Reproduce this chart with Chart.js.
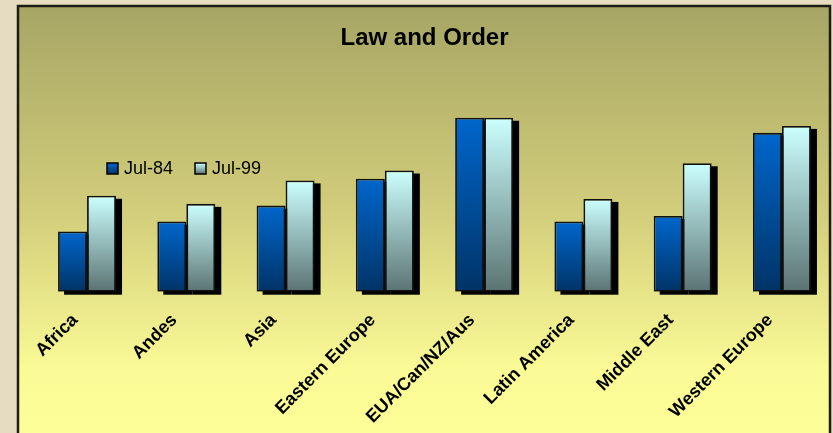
<!DOCTYPE html>
<html><head><meta charset="utf-8">
<script src="https://cdn.jsdelivr.net/npm/chart.js@4/dist/chart.umd.min.js"></script>
<style>html,body{margin:0;padding:0;background:#e4dabd;overflow:hidden}</style>
</head><body>
<canvas id="c" width="833" height="433"></canvas>
<script>
// ---- data ----
const categories = ['Africa','Andes','Asia','Eastern Europe','EUA/Can/NZ/Aus','Latin America','Middle East','Western Europe'];
const seriesNames = ['Jul-84','Jul-99'];
const jul84 = [2.08, 2.42, 2.97, 3.90, 6.00, 2.42, 2.61, 5.48];
const jul99 = [3.31, 3.03, 3.84, 4.18, 6.00, 3.20, 4.43, 5.72];
const titleText = 'Law and Order';

// ---- styles ----
const FONT = "'Liberation Sans', Arial, sans-serif";
const grad84 = ['#0066cc', '#003366'];
const grad99 = ['#ccffff', '#5a7372'];

function barBg(cols) {
  return (context) => {
    const chart = context.chart;
    const {ctx, chartArea, scales} = chart;
    if (!chartArea || context.type !== 'data' || !scales.y) return cols[0];
    const v = context.parsed ? context.parsed.y : context.raw;
    const yTop = scales.y.getPixelForValue(v);
    const yBot = scales.y.getPixelForValue(0);
    const g = ctx.createLinearGradient(0, yTop, 0, yBot);
    g.addColorStop(0, cols[0]);
    g.addColorStop(1, cols[1]);
    return g;
  };
}

const framePlugin = {
  id: 'frame',
  beforeDraw(chart) {
    const ctx = chart.ctx;
    const W = chart.width, H = chart.height;
    ctx.save();
    ctx.fillStyle = '#e6dcc1';
    ctx.fillRect(0, 0, W, H);
    const x0 = 18, y0 = 6, x1 = 830, y1 = H + 10;
    const g = ctx.createLinearGradient(0, y0, 0, H);
    g.addColorStop(0, '#a6a564');
    g.addColorStop(0.5, '#d4cf7c');
    g.addColorStop(0.85, '#fafa96');
    g.addColorStop(1, '#ffff99');
    ctx.fillStyle = g;
    ctx.fillRect(x0, y0, x1 - x0, y1 - y0);
    ctx.strokeStyle = '#1c1c12';
    ctx.lineWidth = 2.5;
    ctx.strokeRect(x0, y0, x1 - x0, y1 - y0);
    ctx.restore();
  }
};

const shadowPlugin = {
  id: 'barShadow',
  beforeDatasetsDraw(chart) {
    const ctx = chart.ctx;
    ctx.save();
    ctx.fillStyle = '#000';
    chart.data.datasets.forEach((ds, i) => {
      const meta = chart.getDatasetMeta(i);
      meta.data.forEach(bar => {
        const w = bar.width;
        ctx.fillRect(bar.x - w / 2 + 6, bar.y + 3, w, bar.base - bar.y);
      });
    });
    ctx.restore();
  }
};

const legendPlugin = {
  id: 'insideLegend',
  afterDraw(chart) {
    const ctx = chart.ctx;
    const items = [
      {name: seriesNames[0], cols: grad84, x: 107},
      {name: seriesNames[1], cols: grad99, x: 195}
    ];
    const y = 163, s = 11;
    ctx.save();
    items.forEach(it => {
      const g = ctx.createLinearGradient(0, y, 0, y + s);
      g.addColorStop(0, it.cols[0]);
      g.addColorStop(1, it.cols[1]);
      ctx.fillStyle = g;
      ctx.fillRect(it.x, y, s, s);
      ctx.strokeStyle = '#000';
      ctx.lineWidth = 1.5;
      ctx.strokeRect(it.x, y, s, s);
      ctx.fillStyle = '#000';
      ctx.font = '18px ' + FONT;
      ctx.textBaseline = 'middle';
      ctx.textAlign = 'left';
      ctx.fillText(it.name, it.x + 17, y + s / 2 + 0.5);
    });
    ctx.restore();
  }
};

new Chart(document.getElementById('c'), {
  type: 'bar',
  data: {
    labels: categories,
    datasets: [
      {label: seriesNames[0], data: jul84, backgroundColor: barBg(grad84), borderColor: '#111', borderWidth: 1.8, borderSkipped: false,
       categoryPercentage: 0.584, barPercentage: 1},
      {label: seriesNames[1], data: jul99, backgroundColor: barBg(grad99), borderColor: '#111', borderWidth: 1.8, borderSkipped: false,
       categoryPercentage: 0.584, barPercentage: 1}
    ]
  },
  options: {
    responsive: false,
    devicePixelRatio: 1,
    animation: false,
    layout: {padding: {left: 17.4, right: 1.4, top: 0, bottom: 0}},
    plugins: {
      legend: {display: false},
      tooltip: {enabled: false},
      title: {display: true, text: titleText, color: '#000',
              font: {family: FONT, size: 24, weight: 'bold'}, padding: {top: 24, bottom: 7}}
    },
    scales: {
      x: {
        grid: {display: false, drawTicks: false},
        border: {display: false},
        ticks: {color: '#000', font: {family: FONT, size: 18, weight: 'bold'},
                minRotation: 45, maxRotation: 45, padding: 18, labelOffset: -12, autoSkip: false},
        afterFit(s) { s.height = 141.3; }
      },
      y: {
        min: 0, max: 8,
        grid: {display: false},
        border: {display: false},
        ticks: {display: false},
        afterFit(s) { s.width = 20; }
      }
    }
  },
  plugins: [framePlugin, shadowPlugin, legendPlugin]
});
</script>
</body></html>
